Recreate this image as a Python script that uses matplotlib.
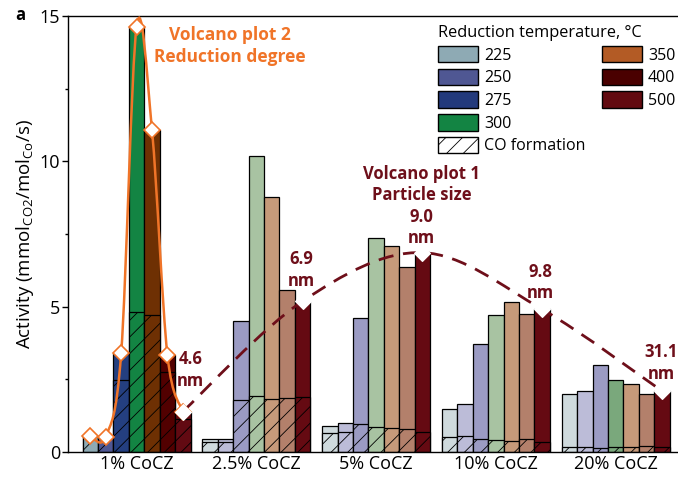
import numpy as np
import matplotlib
matplotlib.use("Agg")
import matplotlib.pyplot as plt
from matplotlib.patches import Rectangle, PathPatch
from matplotlib.path import Path

plt.rcParams['font.family'] = ['Open Sans', 'DejaVu Sans']
plt.rcParams['mathtext.fontset'] = 'custom'
plt.rcParams['mathtext.rm'] = 'Open Sans'
plt.rcParams['mathtext.default'] = 'regular'
plt.rcParams['hatch.linewidth'] = 0.6

# data
groups = ['1% CoCZ', '2.5% CoCZ', '5% CoCZ', '10% CoCZ', '20% CoCZ']
temps = ['225', '250', '275', '300', '350', '400', '500']

total = [
    [0.55, 0.53, 3.40, 14.63, 11.08, 3.34, 1.39],
    [0.43, 0.43, 4.50, 10.19, 8.78, 5.57, 5.19],
    [0.89, 0.99, 4.62, 7.35, 7.09, 6.36, 6.86],
    [1.48, 1.64, 3.73, 4.72, 5.15, 4.75, 4.91],
    [1.98, 2.09, 2.98, 2.49, 2.34, 1.99, 2.10],
]
co = [
    [0.55, 0.53, 2.47, 4.83, 4.71, 2.76, 1.13],
    [0.36, 0.36, 1.79, 1.94, 1.82, 1.85, 1.90],
    [0.64, 0.68, 0.95, 0.85, 0.81, 0.79, 0.69],
    [0.51, 0.55, 0.44, 0.42, 0.39, 0.46, 0.33],
    [0.17, 0.18, 0.14, 0.16, 0.17, 0.22, 0.18],
]

legend_colors = ['#8eaab4', '#4f5793', '#233a7c', '#138443', '#b35b25', '#4a0000', '#620a10']
full_colors = ['#8eaab4', '#4f5793', '#243f80', '#138443', '#6e3003', '#520000', '#620a12']
pale_colors = ['#cfdadd', '#bcbcd8', '#9b9bc3', '#a8c3a2', '#c69a7a', '#b3806b', '#650a12']
pale_colors_20 = ['#cfdadd', '#bcbcd8', '#9b9bc3', '#7aa87c', '#c69a7a', '#b3806b', '#650a12']
group_colors = [full_colors, pale_colors, pale_colors, pale_colors, pale_colors_20]

size_labels = ['4.6\nnm', '6.9\nnm', '9.0\nnm', '9.8\nnm', '31.1\nnm']

orange = '#f07428'
darkred = '#6e0f1a'


def smooth_path(xs, ys):
    # Catmull-Rom through the points, drawn as cubic Bezier segments
    pts = np.column_stack([xs, ys])
    ext = np.vstack([pts[0], pts, pts[-1]])
    verts = [pts[0]]
    codes = [Path.MOVETO]
    for i in range(1, len(ext) - 2):
        p0, p1, p2, p3 = ext[i - 1], ext[i], ext[i + 1], ext[i + 2]
        verts += [p1 + (p2 - p0) / 6, p2 - (p3 - p1) / 6, p2]
        codes += [Path.CURVE4] * 3
    return Path(verts, codes)


fig = plt.figure(figsize=(6.78, 4.78), dpi=100)
ax = fig.add_axes([0.1003, 0.0544, 0.898, 0.912])

w = 0.1286
xg = np.arange(len(groups))
for g in range(len(groups)):
    for i in range(len(temps)):
        x = xg[g] + (i - 3) * w
        c = group_colors[g][i]
        ax.bar(x, total[g][i], w, color=c, edgecolor='black', linewidth=0.9, zorder=2)
        ax.bar(x, co[g][i], w, color=c, edgecolor='black', linewidth=0.9,
               hatch='//', zorder=2)

# volcano plot 2: 1% CoCZ over reduction temperature
xo = xg[0] + (np.arange(len(temps)) - 3) * w
ax.add_patch(PathPatch(smooth_path(xo, total[0]), fill=False, edgecolor=orange,
                       linewidth=1.8, zorder=4))
ax.plot(xo, total[0], linestyle='none', marker='D', markersize=8,
        markerfacecolor='white', markeredgecolor=orange, markeredgewidth=1.2, zorder=5)

# volcano plot 1: 500 C bars over Co loading
xd = xg + 3 * w
yd = [t[6] for t in total]
ax.add_patch(PathPatch(smooth_path(xd, yd), fill=False, edgecolor=darkred,
                       linewidth=2.0, linestyle=(0, (5.5, 3.5)), zorder=4))
ax.plot(xd, yd, linestyle='none', marker='D', markersize=8,
        markerfacecolor='white', markeredgecolor='white', markeredgewidth=0.8, zorder=5)

lab_pos = [(0.452, 2.82), (1.378, 6.26), (2.38, 7.4), (3.373, 5.83), (4.377, 3.06)]
for (lx, ly), s in zip(lab_pos, size_labels):
    if s.startswith('9.0'):
        continue
    ax.text(lx, ly, s, ha='center', va='center', color=darkred, fontsize=12,
            fontweight='bold', linespacing=1.25, clip_on=False, zorder=6)
ax.text(2.38, 8.46, 'Volcano plot 1\nParticle size\n' + size_labels[2], ha='center',
        va='center', color=darkred, fontsize=12, fontweight='bold', linespacing=1.25, zorder=6)
ax.text(0.78, 13.97, 'Volcano plot 2\nReduction degree', ha='center', va='center',
        color=orange, fontsize=12.5, fontweight='bold', linespacing=1.25, zorder=6)

ax.set_xlim(-0.5725, 4.51)
ax.set_ylim(0, 15)
ax.set_xticks(xg)
ax.set_xticklabels(groups, fontsize=13)
ax.set_yticks([0, 5, 10, 15])
ax.set_yticks([2.5, 7.5, 12.5], minor=True)
ax.tick_params(axis='x', length=0, pad=2)
ax.tick_params(axis='y', which='major', length=4.5, width=1, labelsize=13, pad=1)
ax.tick_params(axis='y', which='minor', length=2.2, width=1)
ax.spines['right'].set_visible(False)
for s in ['left', 'top', 'bottom']:
    ax.spines[s].set_linewidth(1.0)
ax.set_ylabel('Activity (mmol$_{CO2}$/mol$_{Co}$/s)', fontsize=13.5, labelpad=3)

# legend
handles = [Rectangle((0, 0), 1, 1, facecolor=legend_colors[i], edgecolor='black',
                     linewidth=1.0, label=temps[i]) for i in range(4)]
handles.append(Rectangle((0, 0), 1, 1, facecolor='white', edgecolor='black',
                         linewidth=1.0, hatch='//', label='CO formation'))
handles += [Rectangle((0, 0), 1, 1, facecolor=legend_colors[i], edgecolor='black',
                      linewidth=1.0, label=temps[i]) for i in range(4, 7)]
handles += [Rectangle((0, 0), 1, 1, fill=False, edgecolor='none', label=' ')] * 2
leg = ax.legend(handles=handles, ncol=2, loc='upper left',
                bbox_to_anchor=(438 / 678, 1 - 25 / 478), bbox_transform=fig.transFigure,
                frameon=False, fontsize=11.5, title='Reduction temperature, °C',
                title_fontsize=11.8, alignment='left', handlelength=2.5,
                handleheight=1.2, labelspacing=0.32, handletextpad=0.4,
                columnspacing=1.0, borderpad=0, borderaxespad=0)

fig.text(15 / 678, 1 - 15 / 478, 'a', fontsize=12, fontweight='bold', ha='left', va='center')

fig.savefig('out.png', dpi=100)
